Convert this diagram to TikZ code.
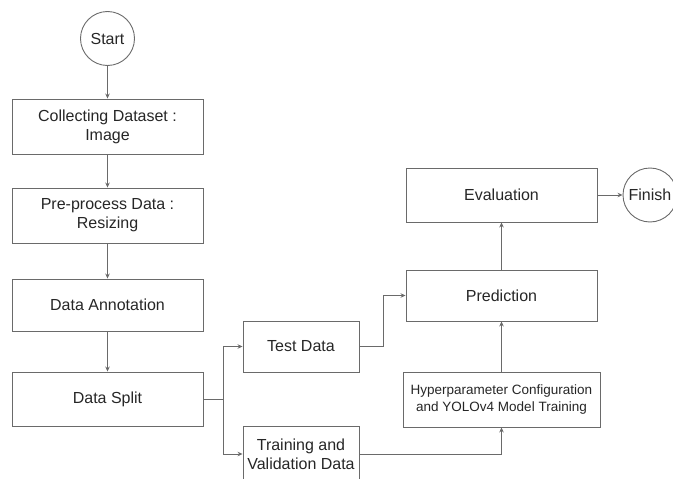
\documentclass[tikz,border=0pt]{standalone}
\usepackage{fontspec}
\setmainfont{Liberation Sans}
\usetikzlibrary{arrows.meta,calc}
\definecolor{linec}{HTML}{6A6A6A}
\definecolor{txtc}{HTML}{262626}
\begin{document}
\begin{tikzpicture}[x=1pt,y=-1pt,
  every node/.style={text=txtc,font=\fontsize{16}{19}\selectfont,align=center,inner sep=0pt},
  box/.style={draw=linec,line width=0.9pt,rectangle},
  term/.style={draw=linec,line width=0.9pt,circle,minimum size=54pt},
  conn/.style={draw=linec,line width=0.9pt,-{Stealth[length=5pt,width=4.5pt]}},
  plain/.style={draw=linec,line width=0.9pt}]
\useasboundingbox (0,0) rectangle (673,479);
\clip (0,0) rectangle (673,479);
\node[term] (start) at (107.5,38.5) {Start};
\node[box,minimum width=191pt,minimum height=55pt] (collect) at (107.5,126.5) {Collecting Dataset :\\Image};
\node[box,minimum width=191pt,minimum height=55pt] (pre) at (107.5,215.5) {Pre-process Data :\\Resizing};
\node[box,minimum width=191pt,minimum height=52pt] (annot) at (107.5,305) {Data Annotation};
\node[box,minimum width=191pt,minimum height=54pt] (split) at (107.5,399) {Data Split};
\node[box,minimum width=116pt,minimum height=51pt] (test) at (301,346.5) {Test Data};
\node[box,minimum width=116pt,minimum height=56pt] (train) at (301,454) {Training and\\Validation Data};
\node[box,minimum width=197pt,minimum height=55pt,font=\fontsize{13.5}{16.5}\selectfont] (hyper) at (501.5,399.5) {Hyperparameter Configuration\\and YOLOv4 Model Training};
\node[box,minimum width=191pt,minimum height=51pt] (pred) at (501.5,295.5) {Prediction};
\node[box,minimum width=191pt,minimum height=54pt] (eval) at (501.5,195) {Evaluation};
\node[term] (finish) at (650,195) {Finish};
\coordinate (sj) at (223,399);
\coordinate (tj) at (383,346.5);
\draw[conn] (start) -- (collect);
\draw[conn] (collect) -- (pre);
\draw[conn] (pre) -- (annot);
\draw[conn] (annot) -- (split);
\draw[plain] (split.east) -- (sj);
\draw[conn] (sj) |- (test.west);
\draw[conn] (sj) |- (train.west);
\draw[conn] (test.east) -- (tj) |- (pred.west);
\draw[conn] (train.east) -| (hyper.south);
\draw[conn] (hyper) -- (pred);
\draw[conn] (pred) -- (eval);
\draw[conn] (eval) -- (finish);
\end{tikzpicture}
\end{document}
